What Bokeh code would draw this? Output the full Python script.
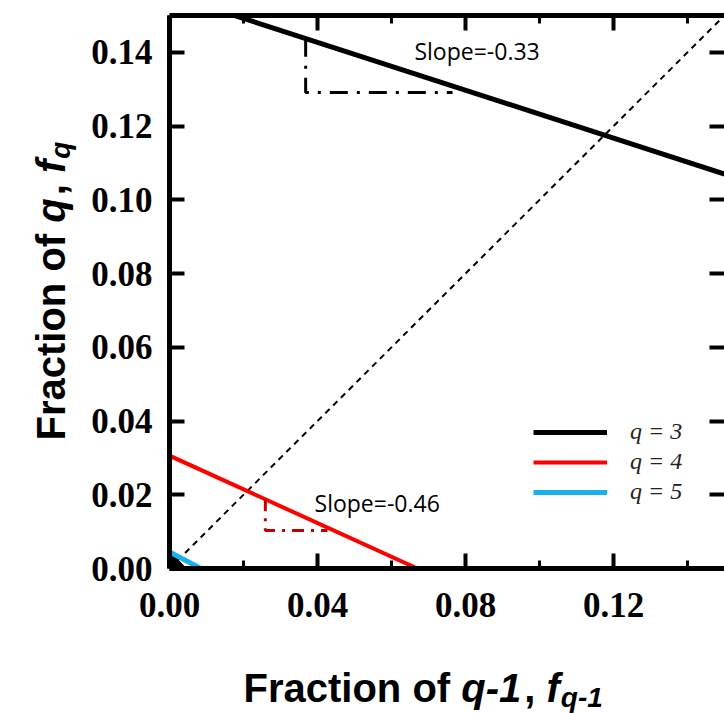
import math
from bokeh.plotting import figure
from bokeh.models import (Range1d, LinearAxis, FixedTicker, Legend,
                          LegendItem, CustomJSTickFormatter)
from bokeh.layouts import row, column
from bokeh.embed import file_html
from bokeh.resources import INLINE
from bokeh.core.properties import value

# ---------------- data ----------------
q3_x = [0.0170, 0.1500]
q3_y = [0.1502, 0.1070]
q4_x = [0.0000, 0.0670]
q4_y = [0.0306, 0.0000]
q5_x = [0.0000, 0.0085]
q5_y = [0.0045, 0.0000]
origin_x = [0.0000, 0.0000, 0.0045]
origin_y = [0.0000, 0.0048, 0.0000]
diag_x = [0.00, 0.15]
diag_y = [0.00, 0.15]
tri3_x = [0.0368, 0.0368, 0.0765]
tri3_y = [0.1437, 0.1291, 0.1291]
tri4_x = [0.0259, 0.0259, 0.0427]
tri4_y = [0.0188, 0.0103, 0.0103]
slope_labels = ["Slope=-0.33", "Slope=-0.46"]
slope_x = [0.0662, 0.0392]
slope_y = [0.1405, 0.0178]
legend_labels = ["q = 3", "q = 4", "q = 5"]
x_major = [0.00, 0.04, 0.08, 0.12]
x_minor = [0.02, 0.06, 0.10, 0.14]
x_tick_labels = ["0.00", "0.04", "0.08", "0.12"]
y_major = [0.00, 0.02, 0.04, 0.06, 0.08, 0.10, 0.12, 0.14]
y_tick_labels = ["0.00", "0.02", "0.04", "0.06", "0.08", "0.10", "0.12", "0.14"]
x_title = [("Fraction of ", "bold"), ("q-1", "bold italic"), (", ", "bold"),
           ("f", "bold italic"), ("q-1", "bold italic")]
y_title = [("Fraction of ", "bold"), ("q", "bold italic"), (", ", "bold"),
           ("f", "bold italic"), ("q", "bold italic")]

# ---------------- layout constants ----------------
W, H = 724, 713
LEFT_W = 80            # width of the y-title strip
MAIN_H = 640           # height of the main figure
L, T, B = 169, 15, 568 # frame edges in page pixels
XMAX, YMAX = 0.15, 0.15

def bare(fig):
    fig.xaxis.visible = False
    fig.yaxis.visible = False
    fig.xgrid.visible = False
    fig.ygrid.visible = False
    fig.outline_line_color = None
    fig.background_fill_color = "white"
    fig.border_fill_color = "white"
    return fig

p = figure(width=W - LEFT_W, height=MAIN_H, x_range=Range1d(0, XMAX),
           y_range=Range1d(0, YMAX), output_backend="svg", toolbar_location=None,
           min_border_left=L - LEFT_W, min_border_right=0, min_border_top=T,
           min_border_bottom=MAIN_H - B)
p.outline_line_color = None
p.xgrid.visible = False
p.ygrid.visible = False
p.background_fill_color = "white"
p.border_fill_color = "white"

def style_axis(ax, major, minor, labels, show):
    ax.ticker = FixedTicker(ticks=major, minor_ticks=minor)
    ax.axis_line_width = 5
    ax.axis_line_color = "black"
    ax.major_tick_in = 15
    ax.major_tick_out = 0
    ax.major_tick_line_width = 4
    ax.major_tick_line_color = "black"
    if minor:
        ax.minor_tick_in = 8
        ax.minor_tick_out = 0
        ax.minor_tick_line_width = 3
        ax.minor_tick_line_color = "black"
    else:
        ax.minor_tick_line_color = None
    if show:
        ax.major_label_overrides = {t: s for t, s in zip(major, labels)}
        ax.major_label_text_font = "Liberation Serif"
        ax.major_label_text_font_style = "bold"
        ax.major_label_text_font_size = "35px"
        ax.major_label_text_color = "black"
    else:
        ax.formatter = CustomJSTickFormatter(code="return ''")
        ax.major_label_text_font_size = "1px"
        ax.major_label_standoff = 0

xa = p.xaxis[0]
ya = p.yaxis[0]
style_axis(xa, x_major, x_minor, x_tick_labels, True)
xa.major_label_standoff = 24
style_axis(ya, y_major, [], y_tick_labels, True)
ya.major_label_standoff = 17

top_ax = LinearAxis()
style_axis(top_ax, x_major, x_minor, x_tick_labels, False)
p.add_layout(top_ax, "above")
right_ax = LinearAxis()
style_axis(right_ax, y_major, [], y_tick_labels, False)
right_ax.axis_line_color = None
p.add_layout(right_ax, "right")

# ---------------- glyphs ----------------
p.line(diag_x, diag_y, line_color="black", line_width=2, line_dash="6 5")
p.patch(origin_x, origin_y, fill_color="black", line_color="black", line_width=1)
r3 = p.line(q3_x, q3_y, line_color="black", line_width=5)
r4 = p.line(q4_x, q4_y, line_color="#ff0000", line_width=4)
r5 = p.line(q5_x, q5_y, line_color="#1ab0ee", line_width=5)
p.line(tri3_x, tri3_y, line_color="black", line_width=3, line_dash="18 9 3 9")
p.line(tri4_x, tri4_y, line_color="#c00000", line_width=3, line_dash="12 7 3 7")

p.text(x=slope_x, y=slope_y, text=slope_labels, text_font=value("Open Sans"),
       text_font_size="23px", text_color="black", text_baseline="alphabetic",
       text_align="left")

legend = Legend(items=[LegendItem(label=legend_labels[0], renderers=[r3]),
                       LegendItem(label=legend_labels[1], renderers=[r4]),
                       LegendItem(label=legend_labels[2], renderers=[r5])],
                location=(364, 63), padding=0, margin=0, spacing=3,
                glyph_width=74, glyph_height=24, label_height=24,
                label_standoff=23, border_line_color=None,
                background_fill_alpha=0,
                label_text_font="Liberation Serif",
                label_text_font_style="italic",
                label_text_font_size="24px", label_text_color="#222222")
p.add_layout(legend)

# ---------------- composite axis titles ----------------
CW = {"F": .611, "r": .389, "a": .556, "c": .556, "t": .333, "i": .278,
      "o": .611, "n": .611, " ": .278, "f": .333, "q": .611, "-": .333,
      "1": .556, ",": .278}

def tw(s, size):
    return sum(CW.get(ch, .556) for ch in s) * size

FS, SS = 40, 28
sizes = [FS, FS, FS, FS, SS]
drops = [0, 0, 0, 0, 10]
extras = [0, 3, 0, 1, 0]

# x title strip: its frame is aligned with the main frame (page x L..W)
BOT_H = H - MAIN_H
bx = bare(figure(width=W - LEFT_W, height=BOT_H, x_range=Range1d(L, W),
                 y_range=Range1d(0, BOT_H), output_backend="svg",
                 toolbar_location=None, min_border=0,
                 min_border_left=L - LEFT_W, min_border_right=0))
pos = 243
base = 687
for (txt, style), size, drop, extra in zip(x_title, sizes, drops, extras):
    bx.text(x=[pos], y=[MAIN_H + BOT_H - (base + drop)], text=[txt],
            text_font=value("Liberation Sans"), text_font_style=value(style),
            text_font_size=value(f"{size}px"), text_color="black",
            text_align="left", text_baseline="alphabetic")
    pos += tw(txt, size) + extra

# y title strip (left)
ly = bare(figure(width=LEFT_W, height=H, x_range=Range1d(0, LEFT_W),
                 y_range=Range1d(0, H), output_backend="svg",
                 toolbar_location=None, min_border=0))
pos = 440
basex = 50
for (txt, style), size, drop, extra in zip(y_title, sizes, drops, extras):
    ly.text(x=[basex + drop], y=[H - pos], text=[txt], angle=math.pi / 2,
            text_font=value("Liberation Sans"), text_font_style=value(style),
            text_font_size=value(f"{size}px"), text_color="black",
            text_align="left", text_baseline="alphabetic")
    pos -= tw(txt, size) + extra

layout = row(ly, column(p, bx, spacing=0), spacing=0)
open("out.html", "w").write(file_html(layout, INLINE))
